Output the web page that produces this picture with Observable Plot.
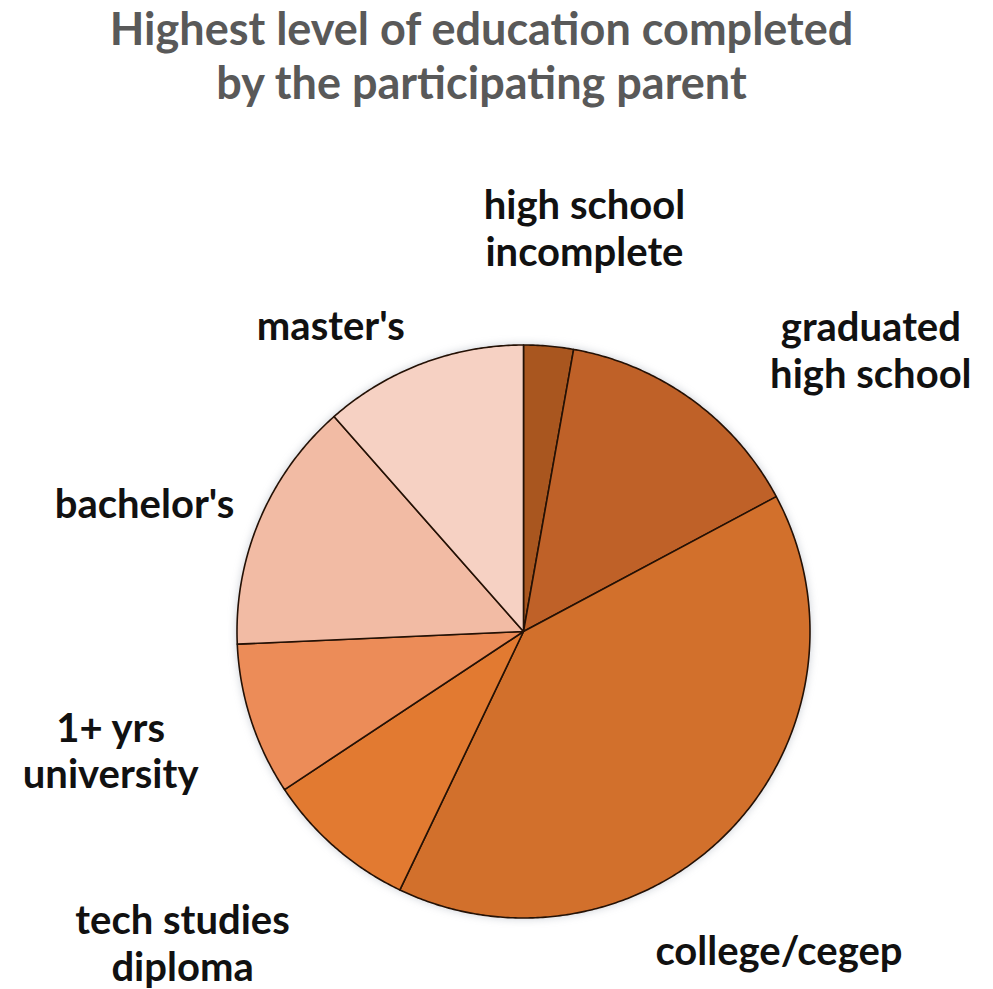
<!DOCTYPE html>
<html>
<head>
<meta charset="utf-8">
<script src="https://cdn.jsdelivr.net/npm/d3@7"></script>
<script src="https://cdn.jsdelivr.net/npm/@observablehq/plot@0.6"></script>
<style>
  body { margin: 0; background: #fff; font-family: Lato, "Open Sans", sans-serif; }
  #title {
    width: 963px; height: 120px; text-align: center; color: #595959;
    font-weight: 700; font-size: 45px; line-height: 54px; box-sizing: border-box;
    margin: 0; padding-top: 1px;
  }
  #chart svg { display: block; }
</style>
</head>
<body>
<div id="title">Highest level of education completed<br>by the participating parent</div>
<div id="chart"></div>
<script>
// ---- data ----
const categories = [
  "high school incomplete", "graduated high school", "college/cegep",
  "tech studies diploma", "1+ yrs university", "bachelor's", "master's"
];
const shares = [2.8, 14.4, 39.9, 8.6, 8.6, 14.2, 11.5]; // percent of parents
const labelText = [
  "high school\nincomplete", "graduated\nhigh school", "college/cegep",
  "tech studies\ndiploma", "1+ yrs\nuniversity", "bachelor's", "master's"
];
const colors = ["#A9561F", "#BF6128", "#D2702C", "#E27A31", "#EC8C58", "#F2BBA4", "#F6D1C3"];

// ---- layout ----
const W = 993, H = 869;
const R = 286.5;            // pie radius in px
const cx = 523, cy = 511;   // pie centre in px
const labelK = 1.35;        // radial distance of labels (in radii)
// per-label pixel nudges from the radial anchor (layout only)
const nudge = {
  "high school incomplete": [27, -19],
  "graduated high school": [120, 31],
  "college/cegep": [-24, 51],
  "tech studies diploma": [-87, 19],
  "1+ yrs university": [-45, -1],
  "bachelor's": [-23, 23],
  "master's": [-56, 55]
};

const arcs = d3.pie().sort(null).value(d => d)(shares);

// slice outlines in unit-circle coordinates, angles clockwise from 12 o'clock
const slicePts = [];
arcs.forEach((a, i) => {
  const c = categories[i];
  slicePts.push({c, x: 0, y: 0});
  const n = Math.max(4, Math.ceil((a.endAngle - a.startAngle) / (Math.PI / 360)));
  for (let j = 0; j <= n; j++) {
    const t = a.startAngle + (a.endAngle - a.startAngle) * j / n;
    slicePts.push({c, x: Math.sin(t), y: Math.cos(t)});
  }
});

const labels = arcs.map((a, i) => {
  const m = (a.startAngle + a.endAngle) / 2;
  const [dx, dy] = nudge[categories[i]];
  return {
    c: categories[i],
    text: labelText[i],
    x: labelK * Math.sin(m) + dx / R,
    y: labelK * Math.cos(m) - dy / R
  };
});

const chart = Plot.plot({
  width: W, height: H,
  margin: 0,
  style: {background: "transparent", overflow: "visible"},
  x: {domain: [-cx / R, (W - cx) / R], axis: null},
  y: {domain: [-(H - cy) / R, cy / R], axis: null},
  color: {domain: categories, range: colors},
  marks: [
    Plot.line(slicePts, {
      x: "x", y: "y", z: "c", fill: "c",
      stroke: "#241105", strokeWidth: 1.6, strokeLinejoin: "round",
      curve: "linear-closed"
    }),
    Plot.text(labels, {
      x: "x", y: "y", text: "text",
      fontSize: 40, fontWeight: 700, fill: "#111",
      fontFamily: "Lato, 'Open Sans', sans-serif",
      lineHeight: 1.17, textAnchor: "middle", lineAnchor: "middle"
    })
  ]
});
// soft glow around the pie, as in the reference
const pieGroup = chart.querySelector('g[aria-label="line"]');
if (pieGroup) pieGroup.style.filter = "drop-shadow(0 0 4px rgba(110,120,140,0.35))";
document.getElementById("chart").append(chart);
</script>
</body>
</html>
